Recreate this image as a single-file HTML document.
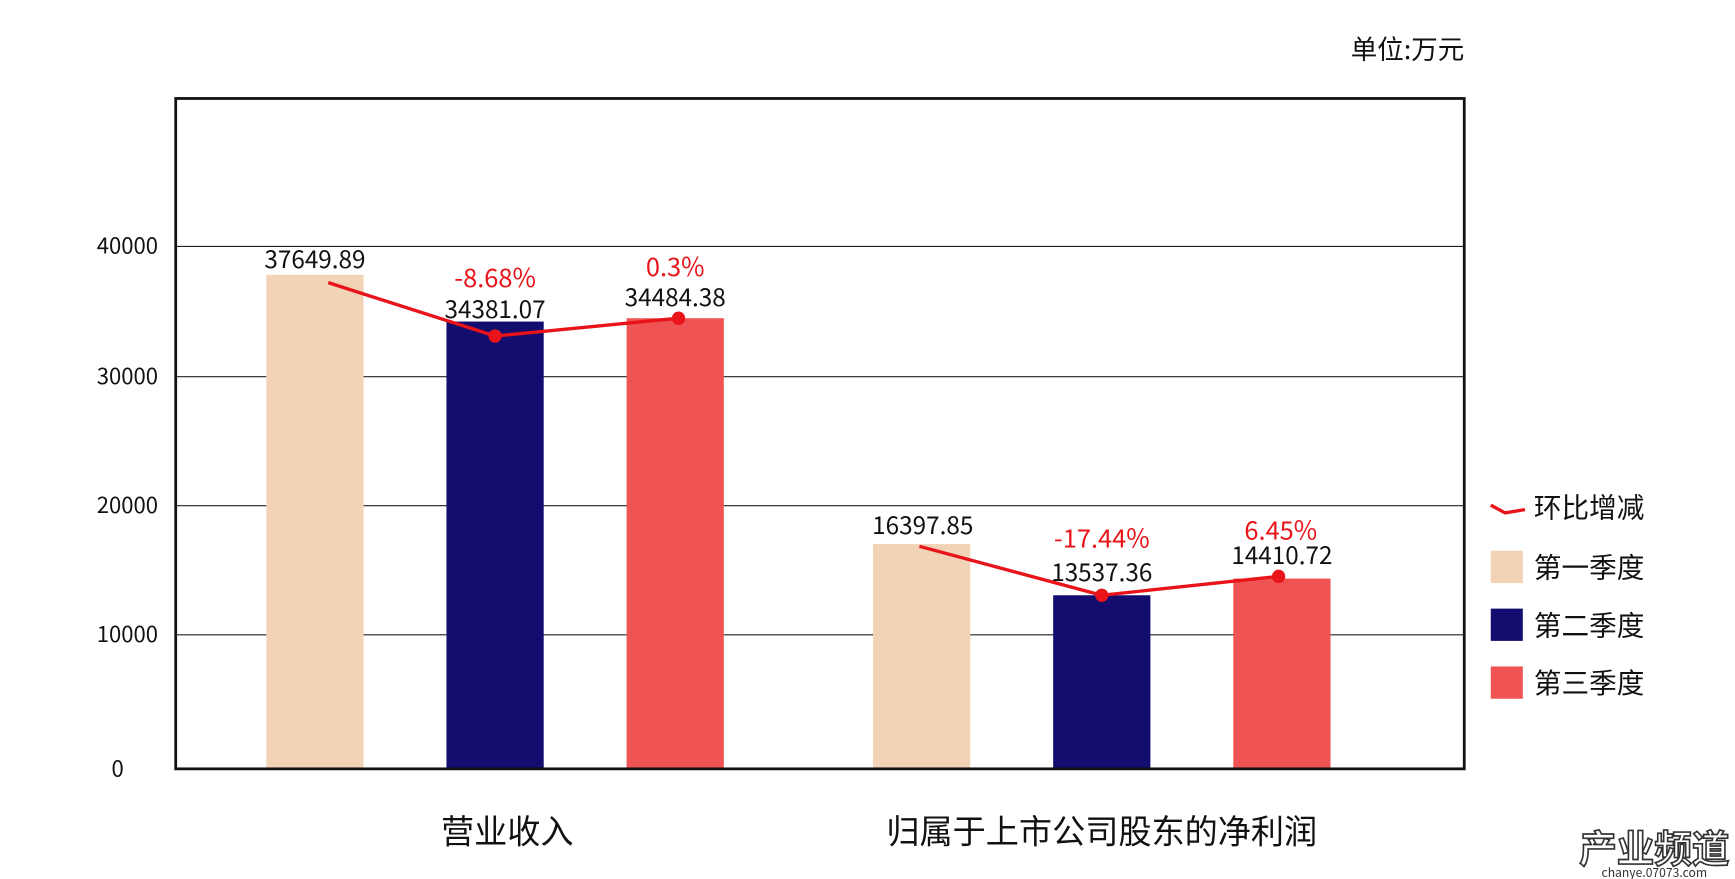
<!DOCTYPE html>
<html><head><meta charset="utf-8"><style>
html,body{margin:0;padding:0;background:#fff;}
svg{display:block;}
text{font-family:"Noto Sans CJK SC","Liberation Sans",sans-serif;}
</style></head><body>
<svg width="1735" height="879" viewBox="0 0 1570 790" preserveAspectRatio="none" xmlns="http://www.w3.org/2000/svg">
<rect width="1570" height="790" fill="#fff"/>
<text x="1325" y="53" font-size="24" text-anchor="end" fill="#111">单位:万元</text>
<g stroke="#222" stroke-width="1">
<line x1="159" y1="221.5" x2="1325" y2="221.5"/>
<line x1="159" y1="338.5" x2="1325" y2="338.5"/>
<line x1="159" y1="454.5" x2="1325" y2="454.5"/>
<line x1="159" y1="570.5" x2="1325" y2="570.5"/>
</g>
<g font-size="20" fill="#111" text-anchor="end">
<text x="143" y="228">40000</text>
<text x="143" y="345">30000</text>
<text x="143" y="461">20000</text>
<text x="143" y="577">10000</text>
<text x="112" y="698">0</text>
</g>
<rect x="241" y="247" width="88" height="444" fill="#f2d3b5"/>
<rect x="404" y="289" width="88" height="402" fill="#120d6e"/>
<rect x="567" y="286" width="88" height="405" fill="#ef5353"/>
<rect x="790" y="489" width="88" height="202" fill="#f2d3b5"/>
<rect x="953" y="535" width="88" height="156" fill="#120d6e"/>
<rect x="1116" y="520" width="88" height="171" fill="#ef5353"/>
<rect x="159" y="88.5" width="1166" height="602.5" fill="none" stroke="#111" stroke-width="2.5"/>
<g stroke="#e8141a" stroke-width="3" fill="none">
<polyline points="297,254 448,302 614,286"/>
<polyline points="832,491 997,535 1157,518"/>
</g>
<g fill="#e8141a">
<circle cx="448" cy="302" r="6"/><circle cx="614" cy="286" r="6"/>
<circle cx="997" cy="535" r="6"/><circle cx="1157" cy="518" r="6"/>
</g>
<g font-size="22" fill="#111" text-anchor="middle">
<text x="285" y="241">37649.89</text>
<text x="448" y="286">34381.07</text>
<text x="611" y="275">34484.38</text>
<text x="835" y="480">16397.85</text>
<text x="997" y="522">13537.36</text>
<text x="1160" y="507">14410.72</text>
</g>
<g font-size="23" fill="#e8141a" text-anchor="middle">
<text x="448" y="258">-8.68%</text>
<text x="611" y="248">0.3%</text>
<text x="997" y="492">-17.44%</text>
<text x="1159" y="485">6.45%</text>
</g>
<g font-size="30" fill="#111" text-anchor="middle">
<text x="459" y="758">营业收入</text>
<text x="997" y="758">归属于上市公司股东的净利润</text>
</g>
<polyline points="1349,454 1362,461 1380,458" stroke="#e8141a" stroke-width="3" fill="none"/>
<rect x="1349" y="495" width="29" height="29" fill="#f2d3b5"/>
<rect x="1349" y="547" width="29" height="29" fill="#120d6e"/>
<rect x="1349" y="599" width="29" height="29" fill="#ef5353"/>
<g font-size="25" fill="#111">
<text x="1388" y="465">环比增减</text>
<text x="1388" y="519">第一季度</text>
<text x="1388" y="571">第二季度</text>
<text x="1388" y="623">第三季度</text>
</g>
<text x="1497" y="775" font-size="34" fill="#fff" stroke="#333" stroke-width="1.5" text-anchor="middle" font-weight="bold">产业频道</text>
<text x="1497" y="788" font-size="11" fill="#333" text-anchor="middle">chanye.07073.com</text>
</svg>
</body></html>
